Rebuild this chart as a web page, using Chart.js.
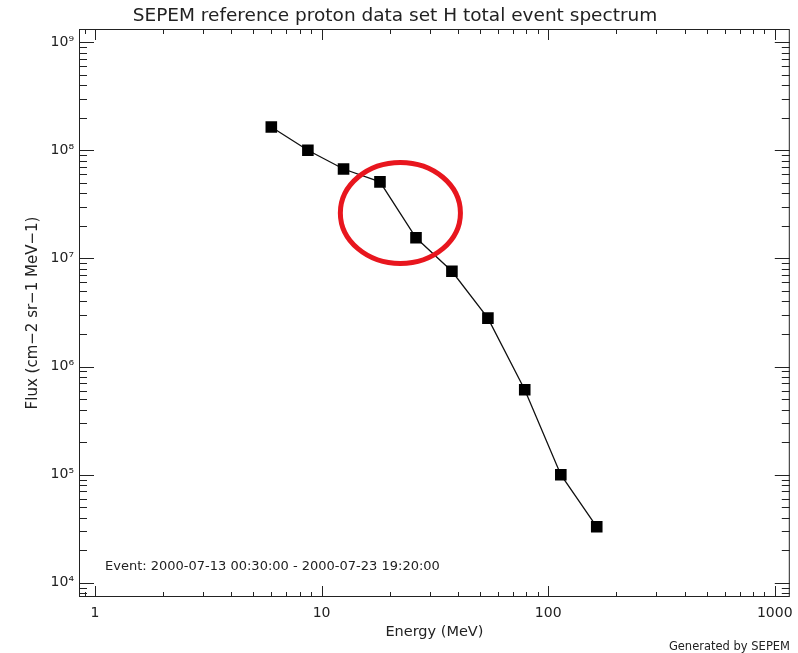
<!DOCTYPE html>
<html>
<head>
<meta charset="utf-8">
<script src="https://cdn.jsdelivr.net/npm/chart.js@4/dist/chart.umd.min.js"></script>
<style>
  html, body { margin: 0; padding: 0; background: #fff; }
  #wrap { width: 798px; height: 653px; }
</style>
</head>
<body>
<div id="wrap"><canvas id="grafico"></canvas></div>
<script>
// ========== Datos ==========
const energia = [6.0, 8.7, 12.5, 18.1, 26.1, 37.6, 54.2, 78.8, 113.7, 163.8];
const flujo = [1.64e8, 1.0e8, 6.7e7, 5.1e7, 1.55e7, 7.6e6, 2.8e6, 6.1e5, 1.0e5, 3.3e4];

const ejeX = { min: 0.85, max: 1165 };
const ejeY = { min: 7.4e3, max: 1.32e9 };
const etiquetasX = { 1: "1", 10: "10", 100: "100", 1000: "1000" };
const etiquetasY = { 1e4: "10⁴", 1e5: "10⁵", 1e6: "10⁶", 1e7: "10⁷", 1e8: "10⁸", 1e9: "10⁹" };

// zona marcada con la elipse roja (en unidades de datos)
const marcaEnergia = [12.1, 41.0];
const marcaFlujo = [8.97e6, 7.7e7];

const textoEvento = "Event: 2000-07-13 00:30:00 - 2000-07-23 19:20:00";
const textoAutor = "Generated by SEPEM";

const TINTA = "#222";
const FUENTE = "'DejaVu Sans', sans-serif";

// ========== Marco estilo IDL ==========
function valoresTicks(min, max) {
  const vals = [];
  for (let e = Math.floor(Math.log10(min)); e <= Math.ceil(Math.log10(max)); e++) {
    for (let k = 1; k <= 9; k++) {
      const v = k * Math.pow(10, e);
      if (v >= min && v <= max) vals.push({ v, mayor: k === 1 });
    }
  }
  return vals;
}

const marcoIDL = {
  id: "marcoIDL",
  afterDraw(chart) {
    const { ctx, chartArea: a, scales } = chart;
    const sx = scales.x, sy = scales.y;
    ctx.save();
    ctx.strokeStyle = TINTA;
    ctx.lineWidth = 1;
    ctx.strokeRect(a.left + 0.5, a.top + 0.5, a.right - a.left - 1, a.bottom - a.top - 1);

    ctx.beginPath();
    valoresTicks(ejeX.min, ejeX.max).forEach((t) => {
      const px = Math.round(sx.getPixelForValue(t.v)) + 0.5;
      const l = t.mayor ? 11 : 5;
      ctx.moveTo(px, a.bottom); ctx.lineTo(px, a.bottom - l);
      ctx.moveTo(px, a.top); ctx.lineTo(px, a.top + l);
    });
    valoresTicks(ejeY.min, ejeY.max).forEach((t) => {
      const py = Math.round(sy.getPixelForValue(t.v)) + 0.5;
      const l = t.mayor ? 15 : 8;
      ctx.moveTo(a.left, py); ctx.lineTo(a.left + l, py);
      ctx.moveTo(a.right, py); ctx.lineTo(a.right - l, py);
    });
    ctx.stroke();

    // elipse roja
    const x0 = sx.getPixelForValue(marcaEnergia[0]);
    const x1 = sx.getPixelForValue(marcaEnergia[1]);
    const y0 = sy.getPixelForValue(marcaFlujo[1]);
    const y1 = sy.getPixelForValue(marcaFlujo[0]);
    ctx.beginPath();
    ctx.ellipse((x0 + x1) / 2, (y0 + y1) / 2, (x1 - x0) / 2, (y1 - y0) / 2, 0, 0, Math.PI * 2);
    ctx.strokeStyle = "#e8161e";
    ctx.lineWidth = 5;
    ctx.stroke();

    // textos
    ctx.fillStyle = TINTA;
    ctx.font = "13px " + FUENTE;
    ctx.textBaseline = "middle";
    ctx.textAlign = "left";
    ctx.fillText(textoEvento, 105, 567);
    ctx.font = "11.5px " + FUENTE;
    ctx.textAlign = "right";
    ctx.fillText(textoAutor, 790, 647);
    ctx.restore();
  },
};

// ========== Gráfico ==========
function dibujarEspectro() {
  const ctx = document.getElementById("grafico").getContext("2d");
  const puntos = energia.map((e, i) => ({ x: e, y: flujo[i] }));

  new Chart(ctx, {
    type: "line",
    data: {
      datasets: [
        {
          data: puntos,
          borderColor: "#111",
          borderWidth: 1.3,
          backgroundColor: "#000",
          pointStyle: "rect",
          pointRadius: 8.2,
          pointBorderWidth: 0,
          pointBackgroundColor: "#000",
          tension: 0,
        },
      ],
    },
    plugins: [marcoIDL],
    options: {
      responsive: true,
      maintainAspectRatio: false,
      animation: false,
      layout: { padding: { left: 0, right: 8, top: 0, bottom: 0 } },
      plugins: {
        legend: { display: false },
        tooltip: { enabled: false },
        title: {
          display: true,
          text: "SEPEM reference proton data set H total event spectrum",
          color: TINTA,
          font: { family: FUENTE, size: 18.5, weight: "normal" },
          padding: { top: 5.5, bottom: 1.3 },
        },
      },
      scales: {
        x: {
          type: "logarithmic",
          min: ejeX.min,
          max: ejeX.max,
          grid: { display: false, drawTicks: false },
          border: { display: false },
          ticks: {
            autoSkip: false,
            maxRotation: 0,
            padding: 8,
            color: TINTA,
            font: { family: FUENTE, size: 14 },
            callback: (v) => etiquetasX[v] || "",
          },
          title: {
            display: true,
            text: "Energy (MeV)",
            color: TINTA,
            font: { family: FUENTE, size: 14.5 },
            padding: { top: 0, bottom: 12 },
          },
          afterFit: (s) => { s.height = 56; },
        },
        y: {
          type: "logarithmic",
          min: ejeY.min,
          max: ejeY.max,
          grid: { display: false, drawTicks: false },
          border: { display: false },
          ticks: {
            autoSkip: false,
            padding: 5,
            color: TINTA,
            font: { family: FUENTE, size: 14 },
            callback: (v) => etiquetasY[v] || "",
          },
          title: {
            display: true,
            text: "Flux (cm−2 sr−1 MeV−1)",
            color: TINTA,
            font: { family: FUENTE, size: 15 },
            padding: { top: 24, bottom: 0 },
          },
          afterFit: (s) => { s.width = 79; },
        },
      },
    },
  });
}

document.addEventListener("DOMContentLoaded", dibujarEspectro);
</script>
</body>
</html>
